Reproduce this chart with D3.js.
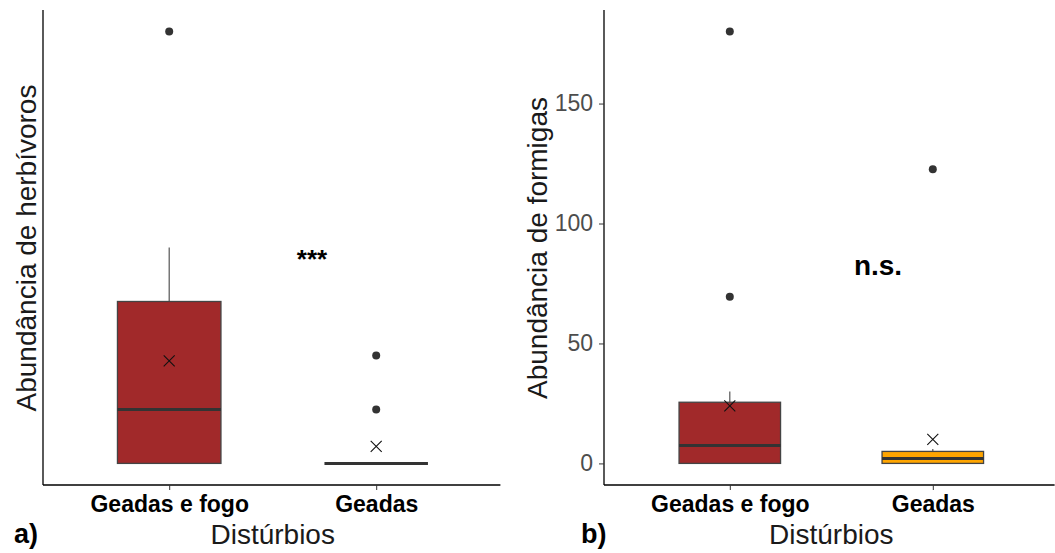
<!DOCTYPE html>
<html><head><meta charset="utf-8">
<script src="https://cdn.jsdelivr.net/npm/d3@7"></script>
<style>body{margin:0;background:#fff}svg{display:block}text{font-family:"Liberation Sans",Arial,sans-serif}</style>
</head><body><svg id="c" width="1055" height="553"></svg>
<script>
const categories = ["Geadas e fogo", "Geadas"];
const fills = ["#A1292A", "#FFA500"];
// panel a: herbivores (no y tick labels shown)
const herbStats = [
  {q1: 0, median: 2, q3: 6, whiskerLow: 0, whiskerHigh: 8, mean: 3.8},
  {q1: 0, median: 0, q3: 0, whiskerLow: 0, whiskerHigh: 0, mean: 0.63}
];
const herbOutliers = [[16], [4, 2]];
// panel b: ants
const antStats = [
  {q1: 0, median: 7.5, q3: 25.5, whiskerLow: 0, whiskerHigh: 30, mean: 24},
  {q1: 0, median: 2, q3: 5, whiskerLow: 0, whiskerHigh: 6, mean: 10}
];
const antOutliers = [[180, 69.5], [122.6]];
const antTicks = [0, 50, 100, 150];

const svg = d3.select("#c");
const FF = "Liberation Sans, Arial, sans-serif";

function panel(opt) {
  const g = svg.append("g");
  const x = d3.scalePoint().domain(categories).range([opt.x0 + 0.6 * opt.step, opt.x0 + 1.6 * opt.step]);
  const max = d3.max([...opt.stats.map(s => s.whiskerHigh), ...opt.outliers.flat()]);
  const exp = max * 0.05;
  const y = d3.scaleLinear().domain([-exp, max + exp]).range([485, 10]);
  const bw = opt.step * 0.5;

  const xa = g.append("g").attr("transform", "translate(0,485)")
    .call(d3.axisBottom(x).tickSize(5).tickPadding(6));
  xa.select(".domain").attr("d", `M${opt.axisX},0H${opt.x0 + 2.2 * opt.step}`).attr("stroke", "#000").attr("stroke-width", 1.3);
  xa.selectAll(".tick line").attr("stroke", "#333");
  xa.selectAll(".tick text").attr("fill", "#000").attr("font-size", 23).attr("font-weight", "bold")
    .attr("font-family", FF).attr("dy", null).attr("y", 27);

  const ya = g.append("g").attr("transform", `translate(${opt.axisX},0)`);
  if (opt.ticks) {
    ya.call(d3.axisLeft(y).tickValues(opt.ticks).tickSize(5).tickPadding(6));
    ya.selectAll(".tick text").attr("fill", "#4d4d4d").attr("font-size", 23).attr("font-family", FF);
    ya.selectAll(".tick line").attr("stroke", "#333");
  } else {
    ya.call(d3.axisLeft(y).tickValues([]).tickSize(0));
  }
  ya.select(".domain").attr("d", "M0,10V485").attr("stroke", "#000").attr("stroke-width", 1.3);

  opt.stats.forEach((s, i) => {
    const cx = x(categories[i]);
    g.append("line").attr("x1", cx).attr("x2", cx).attr("y1", y(s.q3)).attr("y2", y(s.whiskerHigh))
      .attr("stroke", "#555").attr("stroke-width", 1.2);
    g.append("line").attr("x1", cx).attr("x2", cx).attr("y1", y(s.q1)).attr("y2", y(s.whiskerLow))
      .attr("stroke", "#555").attr("stroke-width", 1.2);
    g.append("rect").attr("x", cx - bw / 2).attr("width", bw)
      .attr("y", y(s.q3)).attr("height", Math.max(0, y(s.q1) - y(s.q3)))
      .attr("fill", opt.fills[i]).attr("stroke", "#444").attr("stroke-width", 1.3);
    g.append("line").attr("x1", cx - bw / 2).attr("x2", cx + bw / 2).attr("y1", y(s.median)).attr("y2", y(s.median))
      .attr("stroke", "#333").attr("stroke-width", 3);
    opt.outliers[i].forEach(v => {
      g.append("circle").attr("cx", cx).attr("cy", y(v)).attr("r", 4).attr("fill", "#333");
    });
    const my = y(s.mean), r = 5.5;
    g.append("path").attr("d", `M${cx - r},${my - r}L${cx + r},${my + r}M${cx - r},${my + r}L${cx + r},${my - r}`)
      .attr("stroke", "#111").attr("stroke-width", 1.1).attr("fill", "none");
  });

  g.append("text").attr("x", opt.x0 + 1.1 * opt.step).attr("y", 544).attr("text-anchor", "middle")
    .attr("font-size", 28).attr("fill", "#1a1a1a").text("Distúrbios");
  g.append("text").attr("transform", `translate(${opt.ytitleX},248) rotate(-90)`).attr("text-anchor", "middle")
    .attr("font-size", 28).attr("fill", "#1a1a1a").text(opt.ytitle);
  g.append("text").attr("x", opt.labelX).attr("y", 543).attr("font-size", 27).attr("font-weight", "bold")
    .attr("fill", "#000").text(opt.label);
  g.append("text").attr("x", opt.sig[0]).attr("y", opt.sig[1]).attr("text-anchor", "middle")
    .attr("font-size", opt.sigSize).attr("font-weight", "bold").attr("fill", "#000").text(opt.sigText);
}

panel({x0: 45, step: 207, axisX: 43, stats: herbStats, outliers: herbOutliers, fills: [fills[0], fills[0]],
  ticks: null, ytitle: "Abundância de herbívoros", ytitleX: 36, label: "a)", labelX: 14,
  sig: [312, 268], sigText: "***", sigSize: 26});
panel({x0: 608, step: 203, axisX: 604, stats: antStats, outliers: antOutliers, fills: [fills[0], fills[1]],
  ticks: antTicks, ytitle: "Abundância de formigas", ytitleX: 547, label: "b)", labelX: 581,
  sig: [878, 275], sigText: "n.s.", sigSize: 28});
</script></body></html>
